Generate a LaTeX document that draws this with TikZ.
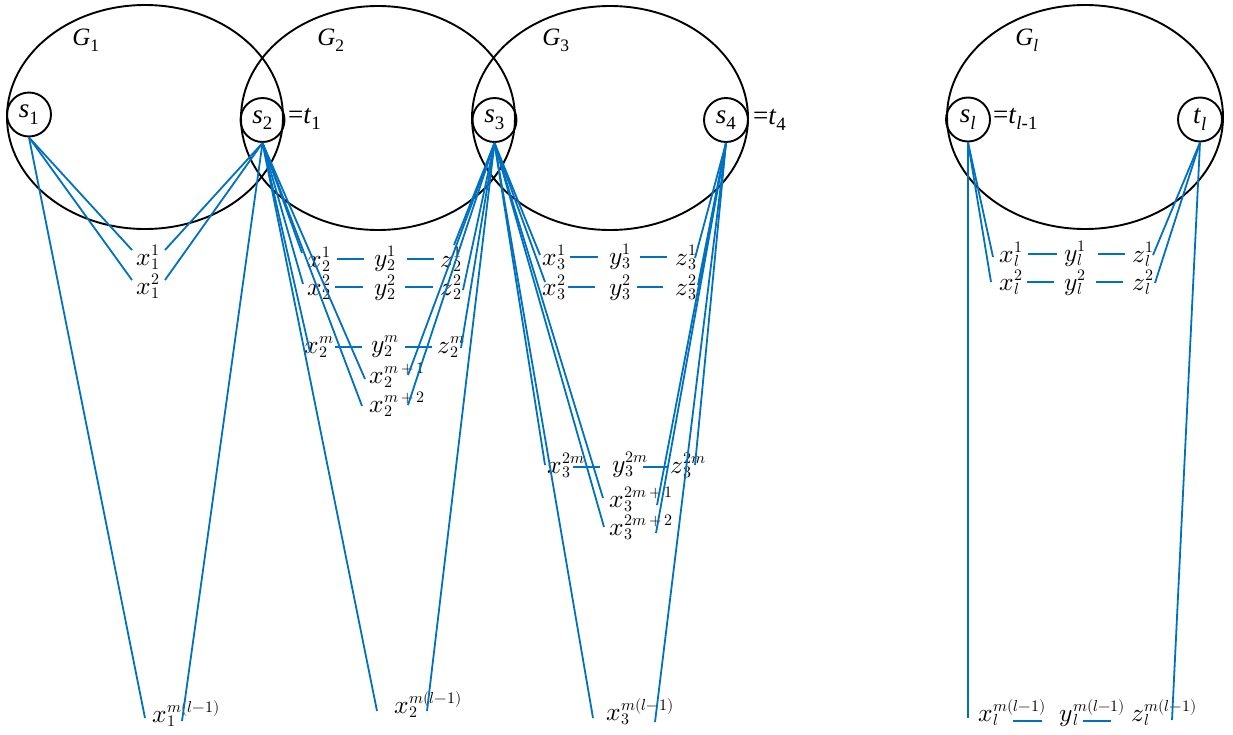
\documentclass[tikz,border=0pt]{standalone}
\usepackage{fontspec}
\usepackage{unicode-math}
\setmainfont{Liberation Serif}
\setmathfont{Latin Modern Math}
\definecolor{lnblue}{HTML}{0070C0}
\newcommand{\scr}[1]{{\fontsize{16}{16}\selectfont\ensuremath{#1}}}
\newcommand{\lb}[3]{\ensuremath{#1}\kern0.5pt\rlap{\raisebox{-4pt}{\scr{#2}}}\raisebox{10pt}{\scr{#3}}}
\newcommand{\ml}{m(l{-}1)}
\tikzset{
  graphell/.style={draw=black, line width=1.9pt},
  vtx/.style={circle, draw=black, line width=1.9pt, minimum size=44pt, inner sep=0pt, font=\fontsize{27}{30}\selectfont},
  glabel/.style={font=\fontsize{25}{28}\selectfont, inner sep=0pt},
  eqlabel/.style={font=\fontsize{27}{30}\selectfont, inner sep=0pt, anchor=west},
  lbl/.style={font=\fontsize{25.5}{27}\selectfont, inner sep=0pt},
  edge/.style={draw=lnblue, line width=1.8pt},
}
\begin{document}
\begin{tikzpicture}[x=1pt,y=-1pt]
\useasboundingbox (0,0) rectangle (1233,734);
% graphs
\draw[graphell] (145,117) ellipse [x radius=138, y radius=112];
\draw[graphell] (378,118) ellipse [x radius=137, y radius=112];
\draw[graphell] (610,118) ellipse [x radius=138, y radius=112];
\draw[graphell] (1085,117) ellipse [x radius=138, y radius=112];
\node[glabel] (g1) at (86,40) {\textit{G}\textsubscript{1}};
\node[glabel] (g2) at (331,40) {\textit{G}\textsubscript{2}};
\node[glabel] (g3) at (556,40) {\textit{G}\textsubscript{3}};
\node[glabel] (gl) at (1027,40) {\textit{G}\textsubscript{\textit{l}}};
% terminals
\node[vtx] (s1) at (29,114.5) {\textit{s}\textsubscript{1}};
\node[vtx] (s2) at (262.5,120) {\textit{s}\textsubscript{2}};
\node[vtx] (s3) at (494.5,120) {\textit{s}\textsubscript{3}};
\node[vtx] (s4) at (726,120) {\textit{s}\textsubscript{4}};
\node[vtx] (sl) at (968,119.5) {\textit{s}\textsubscript{\textit{l}}};
\node[vtx] (tl) at (1200,119.5) {\textit{t}\textsubscript{\textit{l}}};
\node[eqlabel] (eq1) at (288,119) {=\textit{t}\textsubscript{1}};
\node[eqlabel] (eq4) at (753,120) {=\textit{t}\textsubscript{4}};
\node[eqlabel] (eql) at (993,119) {=\textit{t}\textsubscript{\textit{l}-1}};
% G1 labels
\node[lbl] (x11) at (148,257) {\lb{x}{1}{1}};
\node[lbl] (x12) at (148,286) {\lb{x}{1}{2}};
\node[lbl] (x1ml) at (186,714) {\lb{x}{1}{\ml}};
% G2 labels
\node[lbl] (x21) at (319,259) {\lb{x}{2}{1}};
\node[lbl] (y21) at (385,259) {\lb{y}{2}{1}};
\node[lbl] (z21) at (451,259) {\lb{z}{2}{1}};
\node[lbl] (x22) at (319,287) {\lb{x}{2}{2}};
\node[lbl] (y22) at (385,288) {\lb{y}{2}{2}};
\node[lbl] (z22) at (451,287) {\lb{z}{2}{2}};
\node[lbl] (x2m) at (319,347) {\lb{x}{2}{m}};
\node[lbl] (y2m) at (385,347) {\lb{y}{2}{m}};
\node[lbl] (z2m) at (451,347) {\lb{z}{2}{m}};
\node[lbl] (x2m1) at (397,375) {\lb{x}{2}{m\,{+}\,1}};
\node[lbl] (x2m2) at (397,404) {\lb{x}{2}{m\,{+}\,2}};
\node[lbl] (x2ml) at (428,705) {\lb{x}{2}{\ml}};
% G3 labels
\node[lbl] (x31) at (554,257) {\lb{x}{3}{1}};
\node[lbl] (y31) at (620,257) {\lb{y}{3}{1}};
\node[lbl] (z31) at (686,257) {\lb{z}{3}{1}};
\node[lbl] (x32) at (554,287) {\lb{x}{3}{2}};
\node[lbl] (y32) at (620,288) {\lb{y}{3}{2}};
\node[lbl] (z32) at (686,287) {\lb{z}{3}{2}};
\node[lbl] (x32m) at (566,465) {\lb{x}{3}{2m}};
\node[lbl] (y32m) at (630,465) {\lb{y}{3}{2m}};
\node[lbl] (z32m) at (688,465) {\lb{z}{3}{2m}};
\node[lbl] (x32m1) at (641,499) {\lb{x}{3}{2m\,{+}\,1}};
\node[lbl] (x32m2) at (641,527) {\lb{x}{3}{2m\,{+}\,2}};
\node[lbl] (x3ml) at (640,712) {\lb{x}{3}{\ml}};
% Gl labels
\node[lbl] (xl1) at (1011,254) {\lb{x}{l}{1}};
\node[lbl] (yl1) at (1075,254) {\lb{y}{l}{1}};
\node[lbl] (zl1) at (1143,254) {\lb{z}{l}{1}};
\node[lbl] (xl2) at (1011,282) {\lb{x}{l}{2}};
\node[lbl] (yl2) at (1075,283) {\lb{y}{l}{2}};
\node[lbl] (zl2) at (1143,282) {\lb{z}{l}{2}};
\node[lbl] (xlml) at (1012,713) {\lb{x}{l}{\ml}};
\node[lbl] (ylml) at (1092,713) {\lb{y}{l}{\ml}};
\node[lbl] (zlml) at (1164,713) {\lb{z}{l}{\ml}};
% dashes between x, y, z
\draw[edge, shorten <=18pt, shorten >=21pt] (x21.center) -- (y21.center);
\draw[edge, shorten <=22pt, shorten >=17pt] (y21.center) -- (z21.center);
\draw[edge, shorten <=16pt, shorten >=22pt] (x22.center) -- ([yshift=1pt]y22.center);
\draw[edge, shorten <=20pt, shorten >=18pt] ([yshift=1pt]y22.center) -- (z22.center);
\draw[edge, shorten <=16pt, shorten >=23pt] (x2m.center) -- (y2m.center);
\draw[edge, shorten <=20pt, shorten >=19pt] (y2m.center) -- (z2m.center);
\draw[edge, shorten <=16pt, shorten >=22pt] (x31.center) -- (y31.center);
\draw[edge, shorten <=20pt, shorten >=19pt] (y31.center) -- (z31.center);
\draw[edge, shorten <=14pt, shorten >=25pt] (x32.center) -- ([yshift=1pt]y32.center);
\draw[edge, shorten <=17pt, shorten >=23pt] ([yshift=1pt]y32.center) -- (z32.center);
\draw[edge, shorten <=7pt, shorten >=30pt] ([yshift=-2pt]x32m.center) -- ([yshift=-2pt]y32m.center);
\draw[edge, shorten <=13pt, shorten >=20pt] ([yshift=-2pt]y32m.center) -- ([yshift=-2pt]z32m.center);
\draw[edge, shorten <=17pt, shorten >=18pt] (xl1.center) -- (yl1.center);
\draw[edge, shorten <=23pt, shorten >=18pt] (yl1.center) -- (zl1.center);
\draw[edge, shorten <=16pt, shorten >=21pt] (xl2.center) -- ([yshift=1pt]yl2.center);
\draw[edge, shorten <=21pt, shorten >=20pt] ([yshift=1pt]yl2.center) -- (zl2.center);
\draw[edge] ([xshift=1pt,yshift=-8pt]xlml.center) -- ([xshift=-50pt,yshift=-8pt]ylml.center);
\draw[edge] ([xshift=-9pt,yshift=-8pt]ylml.center) -- ([xshift=-53pt,yshift=-8pt]zlml.center);
% s1
\draw[edge] (s1.south) -- ([xshift=-16pt,yshift=7pt]x11.center);
\draw[edge] (s1.south) -- ([xshift=-16pt,yshift=6pt]x12.center);
\draw[edge] (s1.south) -- ([xshift=-41pt,yshift=-4pt]x1ml.center);
% s2
\draw[edge] (s2.south) -- ([xshift=17pt,yshift=7pt]x11.center);
\draw[edge] (s2.south) -- ([xshift=17pt,yshift=6pt]x12.center);
\draw[edge] (s2.south) -- ([xshift=-4pt,yshift=-7pt]x1ml.center);
\draw[edge] (s2.south) -- ([xshift=-17pt,yshift=6pt]x21.center);
\draw[edge] (s2.south) -- ([xshift=-16pt,yshift=3pt]x22.center);
\draw[edge] (s2.south) -- ([xshift=-9pt,yshift=-5pt]x2m.center);
\draw[edge] (s2.south) -- ([xshift=-32pt,yshift=-4pt]x2m1.center);
\draw[edge] (s2.south) -- ([xshift=-35pt,yshift=-2pt]x2m2.center);
\draw[edge] (s2.south) -- ([xshift=-51pt,yshift=-6pt]x2ml.center);
% s3
\draw[edge] (s3.south) -- ([xshift=3pt,yshift=14pt]z21.center);
\draw[edge] (s3.south) -- ([xshift=12pt,yshift=-3pt]z22.center);
\draw[edge] (s3.south) -- ([xshift=10pt,yshift=-1pt]z2m.center);
\draw[edge] (s3.south) -- ([xshift=11pt]x2m1.center);
\draw[edge] (s3.south) -- ([xshift=11pt,yshift=-1pt]x2m2.center);
\draw[edge] (s3.south) -- ([xshift=-1pt,yshift=-6pt]x2ml.center);
\draw[edge] (s3.south) -- ([xshift=-14pt,yshift=2pt]x31.center);
\draw[edge] (s3.south) -- ([xshift=-9pt,yshift=5pt]x32.center);
\draw[edge] (s3.south) -- ([xshift=-21pt]x32m.center);
\draw[edge] (s3.south) -- ([xshift=-38pt,yshift=1pt]x32m1.center);
\draw[edge] (s3.south) -- ([xshift=-37pt]x32m2.center);
\draw[edge] (s3.south) -- ([xshift=-47pt,yshift=-6pt]x3ml.center);
% s4
\draw[edge] (s4.south) -- ([xshift=9pt,yshift=-1pt]z31.center);
\draw[edge] (s4.south) -- ([xshift=12pt,yshift=2pt]z32.center);
\draw[edge] (s4.south) -- ([xshift=7pt]z32m.center);
\draw[edge] (s4.south) -- ([xshift=16pt,yshift=-6pt]x32m1.center);
\draw[edge] (s4.south) -- ([xshift=15pt,yshift=-6pt]x32m2.center);
\draw[edge] (s4.south) -- ([xshift=15pt,yshift=-10pt]x3ml.center);
% sl
\draw[edge] (sl.south) -- ([xshift=-18pt,yshift=-3pt]xl1.center);
\draw[edge] (sl.south) -- ([xshift=-20pt]xl2.center);
\draw[edge] (sl.south) -- ([xshift=-44pt,yshift=-5pt]xlml.center);
% tl
\draw[edge] (tl.south) -- ([xshift=10pt,yshift=-1pt]zl1.center);
\draw[edge] (tl.south) -- ([xshift=12pt,yshift=-1pt]zl2.center);
\draw[edge] (tl.south) -- ([xshift=8pt,yshift=-7pt]zlml.center);
\end{tikzpicture}
\end{document}
